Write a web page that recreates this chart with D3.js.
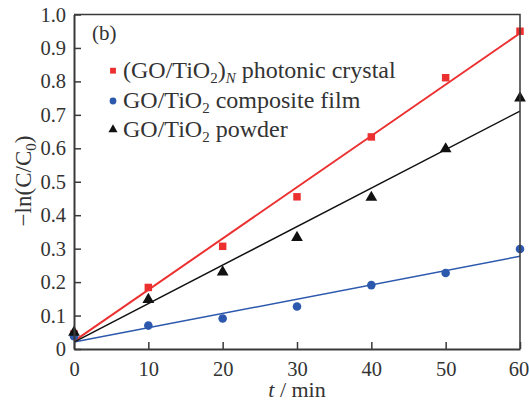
<!DOCTYPE html>
<html>
<head>
<meta charset="utf-8">
<script src="https://cdn.jsdelivr.net/npm/d3@7"></script>
<style>
  html, body { margin: 0; padding: 0; background: #fff; }
  svg { display: block; }
  text { font-family: "Liberation Serif", "Times New Roman", serif; fill: #333; }
</style>
</head>
<body>
<svg id="chart" width="529" height="401"></svg>
<script>
// Sampling times (min)
const times = [0, 10, 20, 30, 40, 50, 60];

// -ln(C/C0) for each sample
const photonicCrystal = [0.045, 0.184, 0.307, 0.455, 0.634, 0.811, 0.950];
const compositeFilm   = [0.038, 0.070, 0.091, 0.127, 0.191, 0.227, 0.299];
const powder          = [0.050, 0.148, 0.230, 0.333, 0.453, 0.598, 0.750];

// Axis ticks
const xTicks = [0, 10, 20, 30, 40, 50, 60];
const yTicks = [0, 0.1, 0.2, 0.3, 0.4, 0.5, 0.6, 0.7, 0.8, 0.9, 1.0];

const width = 529, height = 401;
const margin = { top: 14.5, right: 9, bottom: 52, left: 74 };
const innerW = width - margin.left - margin.right;
const innerH = height - margin.top - margin.bottom;

const svg = d3.select("#chart");
const g = svg.append("g").attr("transform", `translate(${margin.left},${margin.top})`);

const x = d3.scaleLinear().domain([0, 60]).range([0, innerW]);
const y = d3.scaleLinear().domain([0, 1.0]).range([innerH, 0]);

const axisColor = "#3a3a3a";

// Least-squares line through each series
function linearFit(xs, ys) {
  const mx = d3.mean(xs), my = d3.mean(ys);
  let sxy = 0, sxx = 0;
  xs.forEach((xv, i) => { sxy += (xv - mx) * (ys[i] - my); sxx += (xv - mx) ** 2; });
  const slope = sxy / sxx;
  return { slope, intercept: my - slope * mx };
}

const series = [
  { name: "photonic", values: photonicCrystal, color: "#ec3030", lineWidth: 2, marker: "square" },
  { name: "film",     values: compositeFilm,   color: "#2c58ad", lineWidth: 1.5, marker: "circle" },
  { name: "powder",   values: powder,          color: "#111111", lineWidth: 1.5, marker: "triangle" }
];

// Fitted lines
const lineGen = d3.line().x(d => x(d[0])).y(d => y(d[1]));
series.forEach(s => {
  const fit = linearFit(times, s.values);
  const ends = [0, 60].map(t => [t, fit.intercept + fit.slope * t]);
  g.append("path")
    .attr("d", lineGen(ends))
    .attr("fill", "none")
    .attr("stroke", s.color)
    .attr("stroke-width", s.lineWidth);
});

// Markers
const symbolType = { square: d3.symbolSquare, circle: d3.symbolCircle, triangle: d3.symbolTriangle };
const symbolSize = { square: 56, circle: 58, triangle: 60 };
series.forEach(s => {
  g.append("g").selectAll("path")
    .data(times.map((t, i) => [t, s.values[i]]))
    .join("path")
    .attr("transform", d => `translate(${x(d[0])},${y(d[1])})`)
    .attr("d", d3.symbol(symbolType[s.marker], symbolSize[s.marker]))
    .attr("fill", s.color);
});

// Frame (top and right edges)
g.append("path")
  .attr("d", `M0,0H${innerW}V${innerH}`)
  .attr("fill", "none")
  .attr("stroke", axisColor)
  .attr("stroke-width", 1.5);

// Axes with inward ticks
const xAxis = g.append("g")
  .attr("transform", `translate(0,${innerH})`)
  .call(d3.axisBottom(x).tickValues(xTicks).tickSizeInner(-7).tickSizeOuter(0).tickPadding(12.5).tickFormat(d3.format("d")));
const yAxis = g.append("g")
  .call(d3.axisLeft(y).tickValues(yTicks).tickSizeInner(-7).tickSizeOuter(0).tickPadding(8)
    .tickFormat(d => d === 0 ? "0" : d3.format(".1f")(d)));

[xAxis, yAxis].forEach(ax => {
  ax.select(".domain").attr("stroke", axisColor).attr("stroke-width", 2);
  ax.selectAll(".tick line").attr("stroke", axisColor).attr("stroke-width", 1.5);
  ax.selectAll(".tick text").attr("font-size", 20.5).attr("fill", "#333")
    .attr("font-family", "Liberation Serif, serif");
});
// keep the last x label inside the canvas edge
xAxis.selectAll(".tick text").filter(d => d === 60).attr("dx", -1.5);

// Axis titles
svg.append("text")
  .attr("x", margin.left + innerW / 2)
  .attr("y", 397)
  .attr("text-anchor", "middle")
  .attr("font-size", 22)
  .html('<tspan font-style="italic">t</tspan> / min');

svg.append("text")
  .attr("transform", `translate(31,181) rotate(-90)`)
  .attr("text-anchor", "middle")
  .attr("font-size", 23)
  .html('−ln(C/C<tspan font-size="15" dy="5">0</tspan><tspan dy="-5">)</tspan>');

// Panel tag
g.append("text")
  .attr("x", 18)
  .attr("y", 25)
  .attr("font-size", 21)
  .text("(b)");

// Legend
const legendItems = [
  { marker: "square", color: "#ec3030", size: 34,
    html: '(GO/TiO<tspan font-size="15" dy="5">2</tspan><tspan dy="-5">)</tspan><tspan font-size="15" font-style="italic" dy="5">N</tspan><tspan dy="-5"> photonic crystal</tspan>' },
  { marker: "circle", color: "#2c58ad", size: 36,
    html: 'GO/TiO<tspan font-size="15" dy="5">2</tspan><tspan dy="-5"> composite film</tspan>' },
  { marker: "triangle", color: "#111111", size: 36,
    html: 'GO/TiO<tspan font-size="15" dy="5">2</tspan><tspan dy="-5"> powder</tspan>' }
];

const legend = svg.append("g");
const markerCenters = [70.7, 101, 129.5];
legendItems.forEach((item, i) => {
  legend.append("path")
    .attr("transform", `translate(113,${markerCenters[i]})`)
    .attr("d", d3.symbol(symbolType[item.marker], item.size))
    .attr("fill", item.color);
  legend.append("text")
    .attr("x", 123)
    .attr("y", markerCenters[i] + 7.2)
    .attr("font-size", 24)
    .html(item.html);
});
</script>
</body>
</html>
